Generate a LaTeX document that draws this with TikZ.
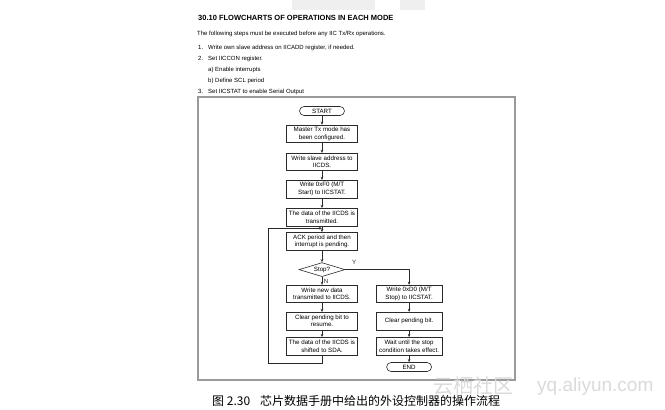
\documentclass[tikz,border=0pt]{standalone}
\usepackage{fontspec}
\setmainfont{Liberation Sans}
\newfontfamily\cjkfont{Noto Sans CJK SC}
\usepackage{tikz}
\usetikzlibrary{arrows.meta,positioning,shapes.geometric}
\definecolor{fcFrame}{HTML}{9A9A9A}
\definecolor{fcLine}{HTML}{2A2A2A}
\definecolor{fcMark}{HTML}{DADADA}
\definecolor{fcBar}{HTML}{EFEFEF}
\newcommand{\boxfont}{\fontsize{6.2}{7.4}\selectfont}
\newcommand{\headfont}{\fontsize{6}{7}\selectfont}
\tikzset{
    stepbox/.style={rectangle, draw=fcLine, fill=white, line width=0.6pt, minimum width=71pt, minimum height=17.5pt, inner sep=1pt, align=center, font=\boxfont},
    narrowbox/.style={stepbox, minimum width=66pt},
    terminal/.style={rectangle, rounded corners=4.5pt, draw=fcLine, fill=white, line width=0.6pt, minimum width=45pt, minimum height=9pt, inner sep=0pt, font=\boxfont},
    decision/.style={diamond, draw=fcLine, fill=white, line width=0.6pt, minimum width=46pt, minimum height=14pt, inner sep=0pt, aspect=3.3, font=\boxfont},
    arrow/.style={-{Stealth[length=3.2pt,width=2.6pt]}, line width=0.6pt, fcLine},
    headline/.style={anchor=base west, inner sep=0pt, font=\headfont},
    pageframe/.style={draw=fcFrame, line width=1.4pt}
}

\begin{document}
\begin{tikzpicture}[x=1pt, y=-1pt]

    \useasboundingbox (0,0) rectangle (665,410);

    % Scan marks and page frame
    \fill[fcBar] (292,0) rectangle (375,10);
    \fill[fcBar] (400,0) rectangle (425,10);
    \draw[pageframe] (198,97) rectangle (515,380);

    % Heading text
    \node[headline, font=\bfseries\fontsize{7.5}{9}\selectfont] (title) at (198,20) {30.10 FLOWCHARTS OF OPERATIONS IN EACH MODE};
    \node[headline] (intro) at (197,35) {The following steps must be executed before any IIC Tx/Rx operations.};
    \node[headline] (num1) at (198,49) {1.};
    \node[headline] (item1) at (208,49) {Write own slave address on IICADD register, if needed.};
    \node[headline] (num2) at (198,60) {2.};
    \node[headline] (item2) at (208,60) {Set IICCON register.};
    \node[headline] (item2a) at (208,71) {a) Enable interrupts};
    \node[headline] (item2b) at (208,82) {b) Define SCL period};
    \node[headline] (num3) at (198,93) {3.};
    \node[headline] (item3) at (208,93) {Set IICSTAT to enable Serial Output};

    % Nodes
    \node[terminal] (start) at (322,111) {START};
    \node[stepbox, below=9pt of start] (configured) {Master Tx mode has\\been configured.};
    \node[stepbox, below=10pt of configured] (writeaddr) {Write slave address to\\IICDS.};
    \node[stepbox, below=9pt of writeaddr] (writestart) {Write 0xF0 (M/T\\Start) to IICSTAT.};
    \node[stepbox, below=10pt of writestart] (transmitted) {The data of the IICDS is\\transmitted.};
    \node[stepbox, below=6pt of transmitted] (ackpend) {ACK period and then\\interrupt is pending.};
    \node[decision, below=12pt of ackpend] (stop) {Stop?};
    \node[stepbox, below=8pt of stop] (newdata) {Write new data\\transmitted to IICDS.};
    \node[stepbox, below=9pt of newdata] (clearresume) {Clear pending bit to\\resume.};
    \node[stepbox, below=7pt of clearresume] (shifted) {The data of the IICDS is\\shifted to SDA.};

    \node[narrowbox, right=18pt of newdata] (writestop) {Write 0xD0 (M/T\\Stop) to IICSTAT.};
    \node[narrowbox, below=9pt of writestop] (clearbit) {Clear pending bit.};
    \node[narrowbox, below=7pt of clearbit] (waitstop) {Wait until the stop\\condition takes effect.};
    \node[terminal, below=7pt of waitstop] (finish) {END};

    \coordinate (join) at ([yshift=-2pt]transmitted.south);
    \coordinate (loopleft) at ([xshift=-54pt]join);

    % Arrows
    \draw[arrow] (start.south) -- (configured.north);
    \draw[arrow] (configured.south) -- (writeaddr.north);
    \draw[arrow] (writeaddr.south) -- (writestart.north);
    \draw[arrow] (writestart.south) -- (transmitted.north);
    \draw[arrow] (transmitted.south) -- (ackpend.north);
    \draw[arrow] (ackpend.south) -- (stop.north);
    \draw[arrow] (stop.south) -- node[right, inner sep=1.5pt, font=\boxfont] {N} (newdata.north);
    \draw[arrow] (newdata.south) -- (clearresume.north);
    \draw[arrow] (clearresume.south) -- (shifted.north);
    \draw[arrow] (shifted.south) -- ++(0,-8pt) -| (loopleft) -- (join);

    \draw[arrow] (stop.east) -| node[pos=0.07, above=1.5pt, font=\boxfont] {Y} (writestop.north);
    \draw[arrow] (writestop.south) -- (clearbit.north);
    \draw[arrow] (clearbit.south) -- (waitstop.north);
    \draw[arrow] (waitstop.south) -- (finish.north);

    % Watermark and caption
    \node[anchor=base west, inner sep=0pt, text=fcMark, font=\cjkfont\fontsize{20}{20}\selectfont] (markcn) at (433,393) {云栖社区};
    \node[anchor=base west, inner sep=0pt, text=fcMark, font=\fontsize{19}{19}\selectfont] (markurl) at (537,391) {yq.aliyun.com};
    \node[anchor=base west, inner sep=0pt, font=\cjkfont\fontsize{12}{12}\selectfont] (figno) at (212,405.5) {图 2.30};
    \node[anchor=base west, inner sep=0pt, font=\cjkfont\fontsize{12}{12}\selectfont] (figtext) at (260,405.5) {芯片数据手册中给出的外设控制器的操作流程};

\end{tikzpicture}
\end{document}
